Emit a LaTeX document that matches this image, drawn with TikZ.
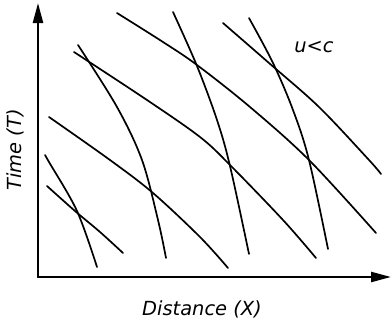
\documentclass[tikz,border=0pt]{standalone}
\usepackage{fontspec}
\setsansfont{DejaVu Sans}
\usetikzlibrary{arrows.meta}
\tikzset{
  wd/.style={x=1bp, y=-1bp, line width=1.7bp, line cap=round, line join=round},
  axis/.style={line width=2.4bp, -{Triangle[length=20bp, width=10bp]}},
  path/.style={smooth, tension=0.55},
  lbl/.style={font=\sffamily\itshape\fontsize{19.5}{22}\selectfont, inner sep=0pt},
}

\begin{document}
\begin{tikzpicture}[wd]
\useasboundingbox (0,0) rectangle (392,322);

\coordinate (o) at (38,277);
\coordinate (ytip) at (38,3);
\coordinate (xtip) at (391,277);
\draw[axis] (o) -- (ytip);
\draw[axis] (o) -- (xtip);

\node[lbl, rotate=90] (tlab) at (15,150) {Time (T)};
\node[lbl] (xlab) at (202,309) {Distance (X)};
\node[lbl] (cond) at (314,47) {u<c};

% flatter lines
\draw plot[path] coordinates {(49,117) (110,160) (153,193) (200,237) (228,268)};
\draw plot[path] coordinates {(47,186) (75,211) (100,232) (123,253)};
\draw plot[path] coordinates {(74,52) (147,100) (200,137) (230,165) (283,220) (316,258)};
\draw plot[path] coordinates {(117,13) (163,42) (197,65) (250,107) (309,160) (376,233)};
\draw plot[path] coordinates {(223,23) (269,63) (319,107) (369,160) (381,174)};

% steeper lines
\draw plot[path] coordinates {(45,155) (49,162) (77,211) (97,267)};
\draw plot[path] coordinates {(78,45) (117,107) (142,160) (158,220) (166,258)};
\draw plot[path] coordinates {(173,12) (197,66) (217,120) (230,166) (249,254)};
\draw plot[path] coordinates {(249,18) (273,63) (293,110) (309,160) (328,249)};
\end{tikzpicture}
\end{document}
